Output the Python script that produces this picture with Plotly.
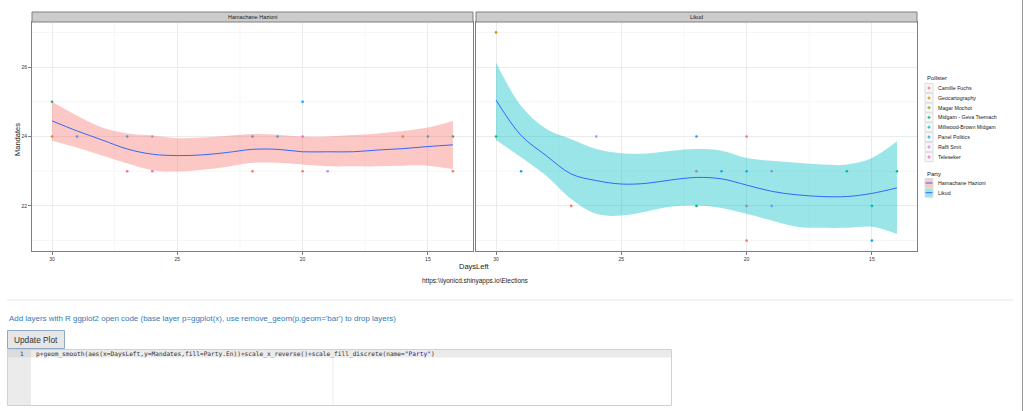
import plotly.graph_objects as go

# ---------------- data ----------------
pollsters = ["Camille Fuchs", "Geocartography", "Magar Mochot", "Midgam - Geva Tsemach",
             "Millwood-Brown Midgam", "Panel Politics", "Raffi Smit", "Teleseker"]
pollster_colors = ["#F8766D", "#CD9600", "#7CAE00", "#00BE67",
                   "#00BFC4", "#00A9FF", "#C77CFF", "#FF61CC"]
parties = ["Hamachane Hazioni", "Likud"]
party_fills = ["rgba(248,118,109,0.4)", "rgba(0,191,196,0.4)"]

hz_days = [30, 30, 29, 27, 26, 27, 26, 22, 21, 20, 20, 16, 15, 14, 22, 20, 19, 14]
hz_mand = [25, 24, 24, 24, 24, 23, 23, 24, 24, 25, 24, 24, 24, 24, 23, 23, 23, 23]
hz_poll = ["Midgam - Geva Tsemach", "Geocartography", "Panel Politics", "Panel Politics",
           "Raffi Smit", "Camille Fuchs", "Teleseker", "Panel Politics", "Panel Politics",
           "Panel Politics", "Teleseker", "Geocartography", "Panel Politics",
           "Midgam - Geva Tsemach", "Camille Fuchs", "Camille Fuchs", "Raffi Smit", "Camille Fuchs"]

lk_days = [30, 30, 29, 27, 26, 22, 22, 22, 21, 20, 20, 20, 20, 19, 19, 16, 15, 15, 14]
lk_mand = [27, 24, 23, 22, 24, 24, 23, 22, 23, 24, 23, 22, 21, 23, 22, 23, 22, 21, 23]
lk_poll = ["Geocartography", "Midgam - Geva Tsemach", "Panel Politics", "Camille Fuchs",
           "Raffi Smit", "Panel Politics", "Camille Fuchs", "Midgam - Geva Tsemach",
           "Panel Politics", "Teleseker", "Panel Politics", "Teleseker", "Camille Fuchs",
           "Raffi Smit", "Raffi Smit", "Midgam - Geva Tsemach", "Millwood-Brown Midgam",
           "Panel Politics", "Midgam - Geva Tsemach"]

smooth_days = [30, 29, 28, 27, 26, 25, 24, 23, 22, 21, 20, 19, 18, 17, 16, 15, 14]
hz_fit = [24.45, 24.16, 23.90, 23.64, 23.49, 23.45, 23.47, 23.54, 23.63, 23.63, 23.56, 23.56, 23.56, 23.61, 23.65, 23.71, 23.76]
hz_hi = [25.00, 24.60, 24.26, 24.09, 24.03, 23.95, 23.97, 24.02, 24.07, 24.05, 24.00, 24.00, 24.04, 24.09, 24.16, 24.26, 24.45]
hz_lo = [23.88, 23.68, 23.45, 23.22, 23.03, 22.99, 23.04, 23.13, 23.24, 23.24, 23.19, 23.14, 23.14, 23.14, 23.16, 23.16, 23.06]
lk_fit = [25.05, 24.03, 23.45, 22.92, 22.73, 22.63, 22.65, 22.75, 22.82, 22.78, 22.60, 22.42, 22.32, 22.27, 22.27, 22.36, 22.52]
lk_hi = [26.13, 24.88, 24.22, 23.92, 23.64, 23.52, 23.51, 23.59, 23.64, 23.59, 23.38, 23.30, 23.24, 23.19, 23.19, 23.38, 23.86]
lk_lo = [23.90, 23.40, 22.87, 22.20, 21.77, 21.72, 21.84, 21.98, 22.01, 21.94, 21.77, 21.58, 21.40, 21.37, 21.37, 21.40, 21.19]

x_ticks = [30, 25, 20, 15]
x_minor = [27.5, 22.5, 17.5]
y_ticks = [22, 24, 26]
y_minor = [21, 23, 25, 27]

strip_titles = parties
x_title = "DaysLeft"
y_title = "Mandates"
caption = "https:\\\\iyonicd.shinyapps.io\\Elections"
help_text = "Add layers with R ggplot2 open code (base layer p=ggplot(x), use remove_geom(p,geom='bar') to drop layers)"
button_text = "Update Plot"
code_text = 'p+geom_smooth(aes(x=DaysLeft,y=Mandates,fill=Party.En))+scale_x_reverse()+scale_fill_discrete(name=<span style="color:#1a1aa6">"Party"</span>)'

# ---------------- geometry helpers ----------------
W, H = 1024, 411
def px(x):
    return x / W
def py(y):
    return 1 - y / H

FONT = "Liberation Sans, Arial, sans-serif"
cmap = dict(zip(pollsters, pollster_colors))

fig = go.Figure()

panels = [
    ("x", "y", hz_days, hz_mand, hz_poll, hz_fit, hz_lo, hz_hi, party_fills[0]),
    ("x2", "y2", lk_days, lk_mand, lk_poll, lk_fit, lk_lo, lk_hi, party_fills[1]),
]
SM = 1.0
for xa, ya, d, m, p, fit, lo, hi, fillc in panels:
    fig.add_trace(go.Scatter(x=d, y=m, mode="markers", xaxis=xa, yaxis=ya,
                             marker=dict(size=2.6, color=[cmap[q] for q in p]),
                             showlegend=False, hoverinfo="skip"))
    fig.add_trace(go.Scatter(x=smooth_days, y=lo, mode="lines", xaxis=xa, yaxis=ya,
                             line=dict(width=0, shape="spline", smoothing=SM),
                             showlegend=False, hoverinfo="skip"))
    fig.add_trace(go.Scatter(x=smooth_days, y=hi, mode="lines", xaxis=xa, yaxis=ya,
                             fill="tonexty", fillcolor=fillc,
                             line=dict(width=0, shape="spline", smoothing=SM),
                             showlegend=False, hoverinfo="skip"))
    fig.add_trace(go.Scatter(x=smooth_days, y=fit, mode="lines", xaxis=xa, yaxis=ya,
                             line=dict(width=1, color="#3366FF", shape="spline", smoothing=SM),
                             showlegend=False, hoverinfo="skip"))

axis_common = dict(showline=True, mirror=True, linecolor="#7f7f7f", linewidth=1,
                   zeroline=False, showgrid=True, gridcolor="#EBEBEB", gridwidth=1,
                   ticks="outside", ticklen=3, tickcolor="#7f7f7f", tickwidth=1,
                   tickfont=dict(size=5, color="#333333", family=FONT), fixedrange=True)

xcommon = dict(axis_common, range=[30.8, 13.2], tickmode="array", tickvals=x_ticks)
ycommon = dict(axis_common, range=[20.7, 27.3], tickmode="array", tickvals=y_ticks)

ydom = [py(251), py(22)]
fig.update_layout(
    width=W, height=H, margin=dict(l=0, r=0, t=0, b=0),
    paper_bgcolor="white", plot_bgcolor="white", showlegend=False,
    xaxis=dict(xcommon, domain=[px(32), px(473)], anchor="y"),
    yaxis=dict(ycommon, domain=ydom, anchor="x"),
    xaxis2=dict(xcommon, domain=[px(476), px(917)], anchor="y2"),
    yaxis2=dict(ycommon, domain=ydom, anchor="x2", showticklabels=False, ticks=""),
)

shapes = []
annotations = []

# minor grid lines (drawn below major grid)
for xa, ya in [("x", "y"), ("x2", "y2")]:
    for v in x_minor:
        shapes.append(dict(type="line", xref=xa, yref=ya + " domain", x0=v, x1=v, y0=0, y1=1,
                           line=dict(color="#F6F6F6", width=1), layer="below"))
    for v in y_minor:
        shapes.append(dict(type="line", xref=xa + " domain", yref=ya, x0=0, x1=1, y0=v, y1=v,
                           line=dict(color="#F6F6F6", width=1), layer="below"))

def rect(x0, y0, x1, y1, fill, line, lw=1, layer="above"):
    shapes.append(dict(type="rect", xref="paper", yref="paper",
                       x0=px(x0), x1=px(x1), y0=py(y1), y1=py(y0),
                       fillcolor=fill, line=dict(color=line, width=lw), layer=layer))

def hline(x0, x1, y, color, lw=1):
    shapes.append(dict(type="line", xref="paper", yref="paper", x0=px(x0), x1=px(x1),
                       y0=py(y), y1=py(y), line=dict(color=color, width=lw)))

def vline(x, y0, y1, color, lw=1):
    shapes.append(dict(type="line", xref="paper", yref="paper", x0=px(x), x1=px(x),
                       y0=py(y0), y1=py(y1), line=dict(color=color, width=lw)))

def text(x, y, s, size, color="#1a1a1a", xanchor="center", family=FONT, angle=0):
    annotations.append(dict(xref="paper", yref="paper", x=px(x), y=py(y), text=s,
                            showarrow=False, xanchor=xanchor, yanchor="middle",
                            font=dict(size=size, color=color, family=family),
                            textangle=angle))

# facet strips
for (x0, x1), title in zip([(32, 473), (476, 917)], strip_titles):
    rect(x0, 12, x1, 22, "#CCCCCC", "#7f7f7f")
    text((x0 + x1) / 2, 17, title, 5.5)

# axis titles / caption
text(17, 140, y_title, 7.5, angle=-90)
text(474, 266, x_title, 7.5)
text(475, 281, caption, 6.5)

# legend
leg_rows = [88, 98, 107.7, 117.4, 127.2, 137, 147, 157]
text(925, 78, "Pollster", 6, xanchor="left")
for yy, name, col in zip(leg_rows, pollsters, pollster_colors):
    rect(925, yy - 4.6, 933, yy + 4.6, "#F7F7F7", "#DDDDDD")
    hline(927.5, 930.5, yy, col)
    vline(929, yy - 1.5, yy + 1.5, col)
    text(936, yy, name, 5.3, xanchor="left")
text(925, 173.5, "Party", 6, xanchor="left")
for yy, name, fc in zip([183, 192.7], parties, party_fills):
    rect(925, yy - 4.6, 933, yy + 4.6, "white", "#DDDDDD")
    rect(925.5, yy - 4.1, 932.5, yy + 4.1, fc, fc, lw=0)
    hline(925.5, 932.5, yy, "#3366FF")
    text(936, yy, name, 5.3, xanchor="left")

# page UI below the chart
hline(7, 1013, 300, "#E8E8E8")
vline(1022.5, 0, 411, "#9a9a9a")
text(7, 318.5, help_text, 7.95, color="#337AB7", xanchor="left")
rect(7.5, 330.5, 64.5, 348.5, "#E6E6E6", "#8FA8C8")
text(36, 339.5, button_text, 8.3, color="#333333")
rect(7.5, 349.5, 671.5, 405.5, "white", "#D0D0D0")
rect(8, 350, 671, 357.5, "#EBEBEB", "rgba(0,0,0,0)", lw=0)
rect(8, 350, 31, 405, "#EBEBEB", "rgba(0,0,0,0)", lw=0)
rect(8, 350, 31, 357.5, "#DCDCDC", "rgba(0,0,0,0)", lw=0)
vline(333, 357.5, 405, "#EBEBEB")
text(22, 353.8, "1", 6, color="#333333", family="DejaVu Sans Mono, monospace")
text(34, 353.8, code_text, 6.2, color="#333333", xanchor="left",
     family="DejaVu Sans Mono, monospace")

fig.update_layout(shapes=shapes, annotations=annotations)
fig.write_html("out.html", config={"displayModeBar": False})
